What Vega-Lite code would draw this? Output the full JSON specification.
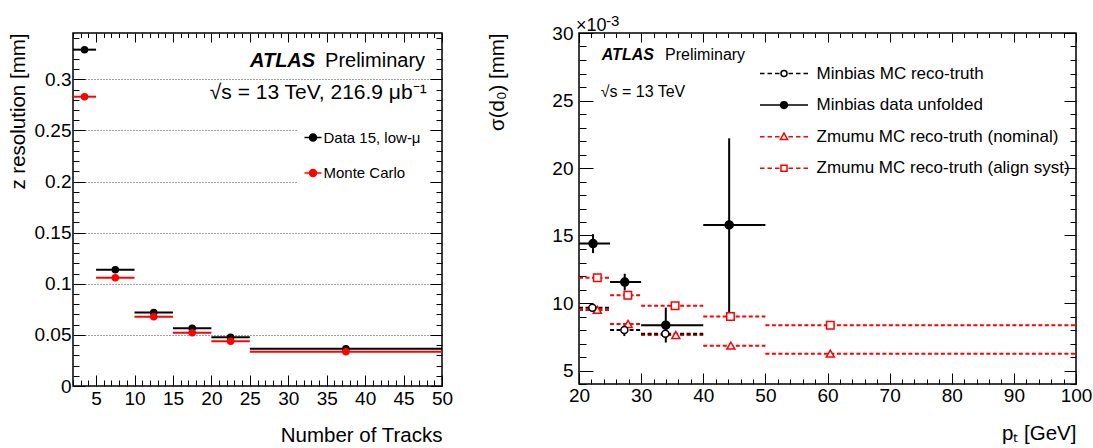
{
  "$schema": "https://vega.github.io/schema/vega-lite/v6.json",
  "background": "white",
  "padding": {"left": 7, "top": 13, "right": 2, "bottom": 3},
  "bounds": "flush",
  "spacing": 137,
  "config": {
    "font": "Liberation Sans",
    "view": {"stroke": "black", "strokeWidth": 1.5},
    "axis": {"labelFont": "Liberation Sans", "titleFont": "Liberation Sans", "labelColor": "black", "titleColor": "black", "titleFontWeight": "normal", "tickColor": "black", "tickWidth": 1, "domain": false, "labelFontSize": 19, "titleFontSize": 20.5, "labelFlush": false, "labelOverlap": false},
    "legend": {"labelFont": "Liberation Sans", "labelColor": "black", "symbolOpacity": 1}
  },
  "datasets": {
    "left": [
      {"series": "Data 15, low-μ", "lo": 2, "hi": 5, "x": 3.5, "y": 0.329},
      {"series": "Data 15, low-μ", "lo": 5, "hi": 10, "x": 7.5, "y": 0.1136},
      {"series": "Data 15, low-μ", "lo": 10, "hi": 15, "x": 12.5, "y": 0.072},
      {"series": "Data 15, low-μ", "lo": 15, "hi": 20, "x": 17.5, "y": 0.0564},
      {"series": "Data 15, low-μ", "lo": 20, "hi": 25, "x": 22.5, "y": 0.0476},
      {"series": "Data 15, low-μ", "lo": 25, "hi": 50, "x": 37.5, "y": 0.0365},
      {"series": "Monte Carlo", "lo": 2, "hi": 5, "x": 3.5, "y": 0.283},
      {"series": "Monte Carlo", "lo": 5, "hi": 10, "x": 7.5, "y": 0.106},
      {"series": "Monte Carlo", "lo": 10, "hi": 15, "x": 12.5, "y": 0.0677},
      {"series": "Monte Carlo", "lo": 15, "hi": 20, "x": 17.5, "y": 0.052},
      {"series": "Monte Carlo", "lo": 20, "hi": 25, "x": 22.5, "y": 0.0437},
      {"series": "Monte Carlo", "lo": 25, "hi": 50, "x": 37.5, "y": 0.0335}
    ],
    "right": [
      {"series": "Zmumu MC reco-truth (align syst)", "lo": 20, "hi": 25, "x": 22.95, "y": 11.87},
      {"series": "Zmumu MC reco-truth (align syst)", "lo": 25, "hi": 30, "x": 27.86, "y": 10.58},
      {"series": "Zmumu MC reco-truth (align syst)", "lo": 30, "hi": 40, "x": 35.47, "y": 9.79},
      {"series": "Zmumu MC reco-truth (align syst)", "lo": 40, "hi": 50, "x": 44.38, "y": 9.0},
      {"series": "Zmumu MC reco-truth (align syst)", "lo": 50, "hi": 100, "x": 60.45, "y": 8.36},
      {"series": "Zmumu MC reco-truth (nominal)", "lo": 20, "hi": 25, "x": 22.95, "y": 9.49},
      {"series": "Zmumu MC reco-truth (nominal)", "lo": 25, "hi": 30, "x": 27.9, "y": 8.45},
      {"series": "Zmumu MC reco-truth (nominal)", "lo": 30, "hi": 40, "x": 35.58, "y": 7.63},
      {"series": "Zmumu MC reco-truth (nominal)", "lo": 40, "hi": 50, "x": 44.44, "y": 6.84},
      {"series": "Zmumu MC reco-truth (nominal)", "lo": 50, "hi": 100, "x": 60.45, "y": 6.25},
      {"series": "Minbias MC reco-truth", "lo": 20, "hi": 25, "x": 22.15, "y": 9.65, "ylo": 9.45, "yhi": 9.9},
      {"series": "Minbias MC reco-truth", "lo": 25, "hi": 30, "x": 27.3, "y": 8.0, "ylo": 7.55, "yhi": 8.35},
      {"series": "Minbias MC reco-truth", "lo": 30, "hi": 40, "x": 33.9, "y": 7.72, "ylo": 7.5, "yhi": 7.95},
      {"series": "Minbias data unfolded", "lo": 20, "hi": 25, "x": 22.26, "y": 14.4, "ylo": 13.7, "yhi": 15.1},
      {"series": "Minbias data unfolded", "lo": 25, "hi": 30, "x": 27.36, "y": 11.55, "ylo": 10.93, "yhi": 12.17},
      {"series": "Minbias data unfolded", "lo": 30, "hi": 40, "x": 33.97, "y": 8.36, "ylo": 7.07, "yhi": 9.66},
      {"series": "Minbias data unfolded", "lo": 40, "hi": 50, "x": 44.17, "y": 15.78, "ylo": 8.95, "yhi": 22.2}
    ]
  },
  "resolve": {"scale": {"color": "independent", "stroke": "independent", "shape": "independent", "fill": "independent"}, "legend": {"color": "independent", "stroke": "independent", "shape": "independent", "fill": "independent"}},
  "hconcat": [
    {
      "width": 369,
      "height": 353,
      "resolve": {"axis": {"x": "independent", "y": "independent"}},
      "layer": [
        {
          "data": {"name": "left"},
          "mark": {"type": "rule", "strokeWidth": 2},
          "encoding": {
            "x": {"field": "lo", "type": "quantitative", "scale": {"domain": [2, 50], "nice": false, "zero": false},
              "axis": {"orient": "bottom", "values": [2,3,4,5,6,7,8,9,10,11,12,13,14,15,16,17,18,19,20,21,22,23,24,25,26,27,28,29,30,31,32,33,34,35,36,37,38,39,40,41,42,43,44,45,46,47,48,49,50],
                "tickSize": {"condition": {"test": "datum.value % 5 === 0", "value": -11}, "value": -6},
                "labelExpr": "datum.value % 5 === 0 ? datum.label : ''", "labelPadding": 14, "grid": false,
                "title": "Number of Tracks", "titleAnchor": "end", "titlePadding": 12}},
            "x2": {"field": "hi"},
            "y": {"field": "y", "type": "quantitative", "scale": {"domain": [0, 0.3453], "nice": false, "zero": false},
              "axis": {"orient": "left", "values": [0,0.01,0.02,0.03,0.04,0.05,0.06,0.07,0.08,0.09,0.1,0.11,0.12,0.13,0.14,0.15,0.16,0.17,0.18,0.19,0.2,0.21,0.22,0.23,0.24,0.25,0.26,0.27,0.28,0.29,0.3,0.31,0.32,0.33,0.34],
                "format": "~g",
                "tickSize": {"condition": {"test": "round(datum.value * 100) % 5 === 0", "value": -12}, "value": -6},
                "labelExpr": "round(datum.value * 100) % 5 === 0 ? datum.label : ''", "labelPadding": 14,
                "grid": true, "gridColor": "#444444", "gridDash": [1, 2], "gridWidth": 1,
                "gridOpacity": {"condition": {"test": "round(datum.value * 100) % 5 === 0", "value": 1}, "value": 0},
                "title": "z resolution [mm]", "titleAnchor": "end", "titlePadding": 6}},
            "stroke": {"condition": {"test": "datum.series === 'Monte Carlo'", "value": "#ff0000"}, "value": "black"}
          }
        },
        {
          "data": {"name": "left"},
          "mark": {"type": "point", "filled": true, "size": 36, "strokeWidth": 1.5, "opacity": 1},
          "encoding": {
            "x": {"field": "x", "type": "quantitative",
              "axis": {"orient": "top", "values": [2,3,4,5,6,7,8,9,10,11,12,13,14,15,16,17,18,19,20,21,22,23,24,25,26,27,28,29,30,31,32,33,34,35,36,37,38,39,40,41,42,43,44,45,46,47,48,49,50],
                "tickSize": {"condition": {"test": "datum.value % 5 === 0", "value": -9}, "value": -4.5},
                "labels": false, "grid": false, "title": null}},
            "y": {"field": "y", "type": "quantitative",
              "axis": {"orient": "right", "values": [0,0.01,0.02,0.03,0.04,0.05,0.06,0.07,0.08,0.09,0.1,0.11,0.12,0.13,0.14,0.15,0.16,0.17,0.18,0.19,0.2,0.21,0.22,0.23,0.24,0.25,0.26,0.27,0.28,0.29,0.3,0.31,0.32,0.33,0.34],
                "tickSize": {"condition": {"test": "round(datum.value * 100) % 5 === 0", "value": -12}, "value": -6},
                "labels": false, "grid": false, "title": null}},
            "stroke": {"field": "series", "type": "nominal", "scale": {"domain": ["Data 15, low-μ", "Monte Carlo"], "range": ["black", "#ff0000"]},
              "legend": {"orient": "none", "legendX": 224.5, "legendY": 89, "title": null, "fillColor": "white", "padding": 8,
                "symbolType": "M-2.43,0H2.43M1,0A1,1,0,1,1,-1,0A1,1,0,1,1,1,0Z", "symbolSize": 49, "symbolStrokeWidth": 1.5,
                "labelFontSize": 15, "labelOffset": 3, "rowPadding": 19.5}},
            "color": {"field": "series", "type": "nominal", "scale": {"domain": ["Data 15, low-μ", "Monte Carlo"], "range": ["black", "#ff0000"]},
              "legend": {"orient": "none", "legendX": 224.5, "legendY": 89, "title": null, "fillColor": "white", "padding": 8,
                "symbolType": "M-2.43,0H2.43M1,0A1,1,0,1,1,-1,0A1,1,0,1,1,1,0Z", "symbolSize": 49, "symbolStrokeWidth": 1.5,
                "labelFontSize": 15, "labelOffset": 3, "rowPadding": 19.5}}
          }
        },
        {
          "data": {"values": [{}]},
          "mark": {"type": "text", "text": "ATLAS", "fontSize": 20, "fontStyle": "italic", "fontWeight": "bold", "align": "right", "baseline": "alphabetic", "color": "black"},
          "encoding": {"x": {"datum": 33.5, "type": "quantitative", "axis": null}, "y": {"datum": 0.312, "type": "quantitative", "axis": null}}
        },
        {
          "data": {"values": [{}]},
          "mark": {"type": "text", "text": "Preliminary", "fontSize": 20, "align": "right", "baseline": "alphabetic", "color": "black"},
          "encoding": {"x": {"datum": 47.8, "type": "quantitative", "axis": null}, "y": {"datum": 0.312, "type": "quantitative", "axis": null}}
        },
        {
          "data": {"values": [{}]},
          "mark": {"type": "text", "text": "√s = 13 TeV, 216.9 μb⁻¹", "fontSize": 21, "align": "right", "baseline": "alphabetic", "color": "black"},
          "encoding": {"x": {"datum": 48.0, "type": "quantitative", "axis": null}, "y": {"datum": 0.2804, "type": "quantitative", "axis": null}}
        }
      ]
    },
    {
      "width": 497,
      "height": 351,
      "resolve": {"axis": {"x": "independent", "y": "independent"}},
      "layer": [
        {
          "data": {"name": "right"},
          "mark": {"type": "rule", "strokeWidth": 2},
          "encoding": {
            "x": {"field": "lo", "type": "quantitative", "scale": {"domain": [20, 100], "nice": false, "zero": false},
              "axis": {"orient": "bottom", "values": [20,22,24,26,28,30,32,34,36,38,40,42,44,46,48,50,52,54,56,58,60,62,64,66,68,70,72,74,76,78,80,82,84,86,88,90,92,94,96,98,100],
                "tickSize": {"condition": {"test": "datum.value % 10 === 0", "value": -11}, "value": -5},
                "labelExpr": "datum.value % 10 === 0 ? datum.label : ''", "labelPadding": 13, "grid": false,
                "title": "pₜ [GeV]", "titleAnchor": "end", "titlePadding": 12}},
            "x2": {"field": "hi"},
            "y": {"field": "y", "type": "quantitative", "scale": {"domain": [4, 30], "nice": false, "zero": false},
              "axis": {"orient": "left", "values": [4,5,6,7,8,9,10,11,12,13,14,15,16,17,18,19,20,21,22,23,24,25,26,27,28,29,30],
                "tickSize": {"condition": {"test": "datum.value % 5 === 0", "value": -14}, "value": -7},
                "labelExpr": "datum.value % 5 === 0 ? datum.label : ''", "labelPadding": 20, "grid": false,
                "title": "σ(d₀) [mm]", "titleAnchor": "end", "titlePadding": 44}},
            "stroke": {"condition": {"test": "indexof(datum.series, 'Zmumu') === 0", "value": "#ff0000"}, "value": "black"},
            "strokeDash": {"condition": {"test": "datum.series === 'Minbias data unfolded'", "value": [1, 0]}, "value": [4, 2.5]}
          }
        },
        {
          "data": {"name": "right"},
          "transform": [{"filter": "datum.ylo != null"}],
          "mark": {"type": "rule", "strokeWidth": 2, "color": "black"},
          "encoding": {
            "x": {"field": "x", "type": "quantitative", "axis": null},
            "y": {"field": "ylo", "type": "quantitative", "axis": null},
            "y2": {"field": "yhi"}
          }
        },
        {
          "data": {"name": "right"},
          "mark": {"type": "point", "filled": false, "strokeWidth": 1.5, "opacity": 1},
          "encoding": {
            "x": {"field": "x", "type": "quantitative",
              "axis": {"orient": "top", "values": [20,22,24,26,28,30,32,34,36,38,40,42,44,46,48,50,52,54,56,58,60,62,64,66,68,70,72,74,76,78,80,82,84,86,88,90,92,94,96,98,100],
                "tickSize": {"condition": {"test": "datum.value % 10 === 0", "value": -9}, "value": -4.5},
                "labels": false, "grid": false, "title": null}},
            "y": {"field": "y", "type": "quantitative",
              "axis": {"orient": "right", "values": [4,5,6,7,8,9,10,11,12,13,14,15,16,17,18,19,20,21,22,23,24,25,26,27,28,29,30],
                "tickSize": {"condition": {"test": "datum.value % 5 === 0", "value": -12}, "value": -6},
                "labels": false, "grid": false, "title": null}},
            "shape": {"condition": [
              {"test": "datum.series === 'Zmumu MC reco-truth (nominal)'", "value": "triangle-up"},
              {"test": "datum.series === 'Zmumu MC reco-truth (align syst)'", "value": "square"}
            ], "value": "circle"},
            "size": {"condition": [
              {"test": "datum.series === 'Minbias data unfolded'", "value": 64},
              {"test": "datum.series === 'Zmumu MC reco-truth (nominal)'", "value": 64},
              {"test": "datum.series === 'Zmumu MC reco-truth (align syst)'", "value": 56}
            ], "value": 49},
            "fill": {"condition": {"test": "datum.series === 'Minbias data unfolded'", "value": "black"}, "value": "white"},
            "stroke": {"condition": {"test": "indexof(datum.series, 'Zmumu') === 0", "value": "#ff0000"}, "value": "black"}
          }
        },
        {
          "data": {"name": "right"},
          "mark": {"type": "point", "filled": false, "strokeWidth": 1.5, "opacity": 0},
          "encoding": {
            "x": {"field": "x", "type": "quantitative", "axis": null},
            "y": {"field": "y", "type": "quantitative", "axis": null},
            "color": {"field": "series", "type": "nominal",
              "scale": {"domain": ["Minbias MC reco-truth", "Minbias data unfolded", "Zmumu MC reco-truth (nominal)", "Zmumu MC reco-truth (align syst)"], "range": ["black", "black", "#ff0000", "#ff0000"]},
              "legend": {"orient": "none", "legendX": 196.5, "legendY": 32, "title": null, "padding": 0,
                "symbolSize": 144, "symbolStrokeWidth": 1.5, "labelFontSize": 17, "labelOffset": 24, "rowPadding": 13.6, "labelLimit": 400}},
            "shape": {"field": "series", "type": "nominal",
              "scale": {"domain": ["Minbias MC reco-truth", "Minbias data unfolded", "Zmumu MC reco-truth (nominal)", "Zmumu MC reco-truth (align syst)"],
                "range": [
                  "M-4,0H-3.25M-2.75,0H-2M-1.5,0H-0.75M0.75,0H1.5M2,0H2.75M3.25,0H4M0.5,0A0.5,0.5,0,1,1,-0.5,0A0.5,0.5,0,1,1,0.5,0Z",
                  "M-4,0H4M0.55,0A0.55,0.55,0,1,1,-0.55,0A0.55,0.55,0,1,1,0.55,0Z",
                  "M-4,0H-3.25M-2.75,0H-2M-1.5,0H-0.75M0.75,0H1.5M2,0H2.75M3.25,0H4M0,-0.6L0.6,0.45L-0.6,0.45Z",
                  "M-4,0H-3.25M-2.75,0H-2M-1.5,0H-0.75M0.75,0H1.5M2,0H2.75M3.25,0H4M-0.5,-0.5H0.5V0.5H-0.5Z"]},
              "legend": {"orient": "none", "legendX": 196.5, "legendY": 32, "title": null, "padding": 0,
                "symbolSize": 144, "symbolStrokeWidth": 1.5, "labelFontSize": 17, "labelOffset": 24, "rowPadding": 13.6, "labelLimit": 400}},
            "fill": {"field": "series", "type": "nominal",
              "scale": {"domain": ["Minbias MC reco-truth", "Minbias data unfolded", "Zmumu MC reco-truth (nominal)", "Zmumu MC reco-truth (align syst)"], "range": ["transparent", "black", "transparent", "transparent"]},
              "legend": {"orient": "none", "legendX": 196.5, "legendY": 32, "title": null, "padding": 0,
                "symbolSize": 144, "symbolStrokeWidth": 1.5, "labelFontSize": 17, "labelOffset": 24, "rowPadding": 13.6, "labelLimit": 400}}
          }
        },
        {
          "data": {"values": [{}]},
          "mark": {"type": "text", "text": "ATLAS", "fontSize": 16, "fontStyle": "italic", "fontWeight": "bold", "align": "left", "baseline": "alphabetic", "color": "black"},
          "encoding": {"x": {"datum": 23.66, "type": "quantitative", "axis": null}, "y": {"datum": 27.98, "type": "quantitative", "axis": null}}
        },
        {
          "data": {"values": [{}]},
          "mark": {"type": "text", "text": "Preliminary", "fontSize": 16, "align": "left", "baseline": "alphabetic", "color": "black"},
          "encoding": {"x": {"datum": 33.86, "type": "quantitative", "axis": null}, "y": {"datum": 27.98, "type": "quantitative", "axis": null}}
        },
        {
          "data": {"values": [{}]},
          "mark": {"type": "text", "text": "√s = 13 TeV", "fontSize": 16, "align": "left", "baseline": "alphabetic", "color": "black"},
          "encoding": {"x": {"datum": 23.5, "type": "quantitative", "axis": null}, "y": {"datum": 25.26, "type": "quantitative", "axis": null}}
        },
        {
          "data": {"values": [{}]},
          "mark": {"type": "text", "text": "×10", "fontSize": 18, "align": "left", "baseline": "alphabetic", "dx": -3, "dy": -2, "color": "black"},
          "encoding": {"x": {"datum": 20, "type": "quantitative", "axis": null}, "y": {"datum": 30, "type": "quantitative", "axis": null}}
        },
        {
          "data": {"values": [{}]},
          "mark": {"type": "text", "text": "-3", "fontSize": 15, "align": "left", "baseline": "alphabetic", "dx": 27, "dy": -7, "color": "black"},
          "encoding": {"x": {"datum": 20, "type": "quantitative", "axis": null}, "y": {"datum": 30, "type": "quantitative", "axis": null}}
        }
      ]
    }
  ]
}
